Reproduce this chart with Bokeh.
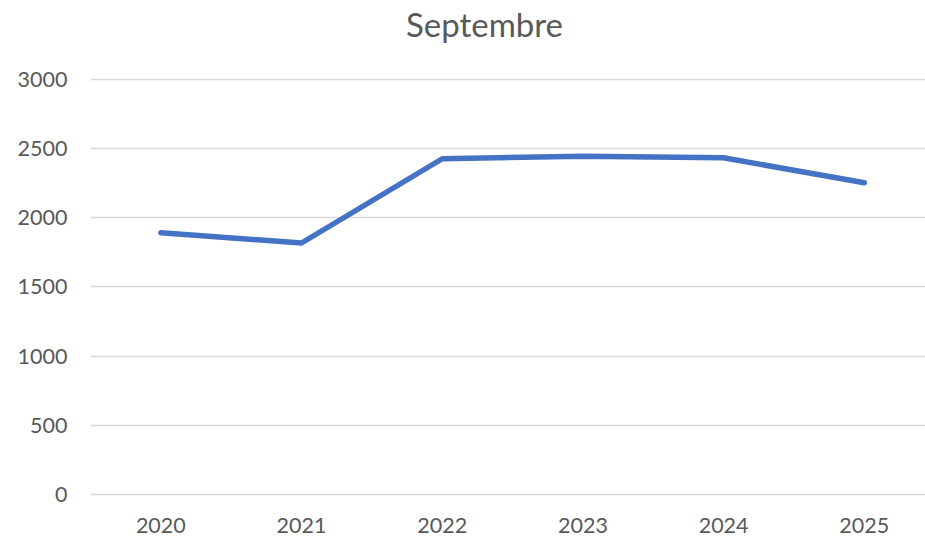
from bokeh.plotting import figure
from bokeh.models import Range1d, FixedTicker, Label
from bokeh.embed import file_html
from bokeh.resources import INLINE

# Data
years = ["2020", "2021", "2022", "2023", "2024", "2025"]
values = [1892, 1818, 2427, 2446, 2434, 2253]
y_ticks = [0, 500, 1000, 1500, 2000, 2500, 3000]

FONT = "Lato"
TEXT = "#595959"
GRID = "#D9D9D9"
LINE = "#4472C4"

xs = list(range(len(years)))

# The frame runs to the top of the canvas; the y range leaves headroom
# above 3000 for the title, and gridlines stop at the last tick.
p = figure(
    width=925, height=536,
    output_backend="svg", toolbar_location=None,
    x_range=Range1d(-0.5, 5.435),
    y_range=Range1d(-14.5, 3571),
    min_border_left=90, min_border_right=0,
    min_border_top=0, min_border_bottom=40,
)
p.outline_line_color = None
p.background_fill_color = "white"
p.border_fill_color = "white"

title = Label(text="Septembre", x=394, y=473, x_units="screen", y_units="screen",
              text_align="center", text_baseline="middle",
              text_font=FONT, text_font_size="33px", text_color=TEXT)
p.add_layout(title)

p.line(xs, values, line_color=LINE, line_width=5.5,
       line_cap="round", line_join="round")

# x axis
p.xaxis.ticker = FixedTicker(ticks=xs)
p.xaxis.major_label_overrides = {i: y for i, y in enumerate(years)}
p.xaxis.axis_line_color = None
p.xaxis.major_tick_line_color = None
p.xaxis.minor_tick_line_color = None
p.xaxis.major_label_text_font = FONT
p.xaxis.major_label_text_font_size = "21.5px"
p.xaxis.major_label_text_color = TEXT
p.xaxis.major_label_standoff = 15

# y axis
p.yaxis.ticker = FixedTicker(ticks=y_ticks)
p.yaxis.axis_line_color = None
p.yaxis.major_tick_line_color = None
p.yaxis.minor_tick_line_color = None
p.yaxis.major_label_text_font = FONT
p.yaxis.major_label_text_font_size = "21.5px"
p.yaxis.major_label_text_color = TEXT
p.yaxis.major_label_standoff = 17

p.xgrid.grid_line_color = None
p.ygrid.grid_line_color = GRID
p.ygrid.grid_line_width = 1.5

open("out.html", "w").write(file_html(p, INLINE))
